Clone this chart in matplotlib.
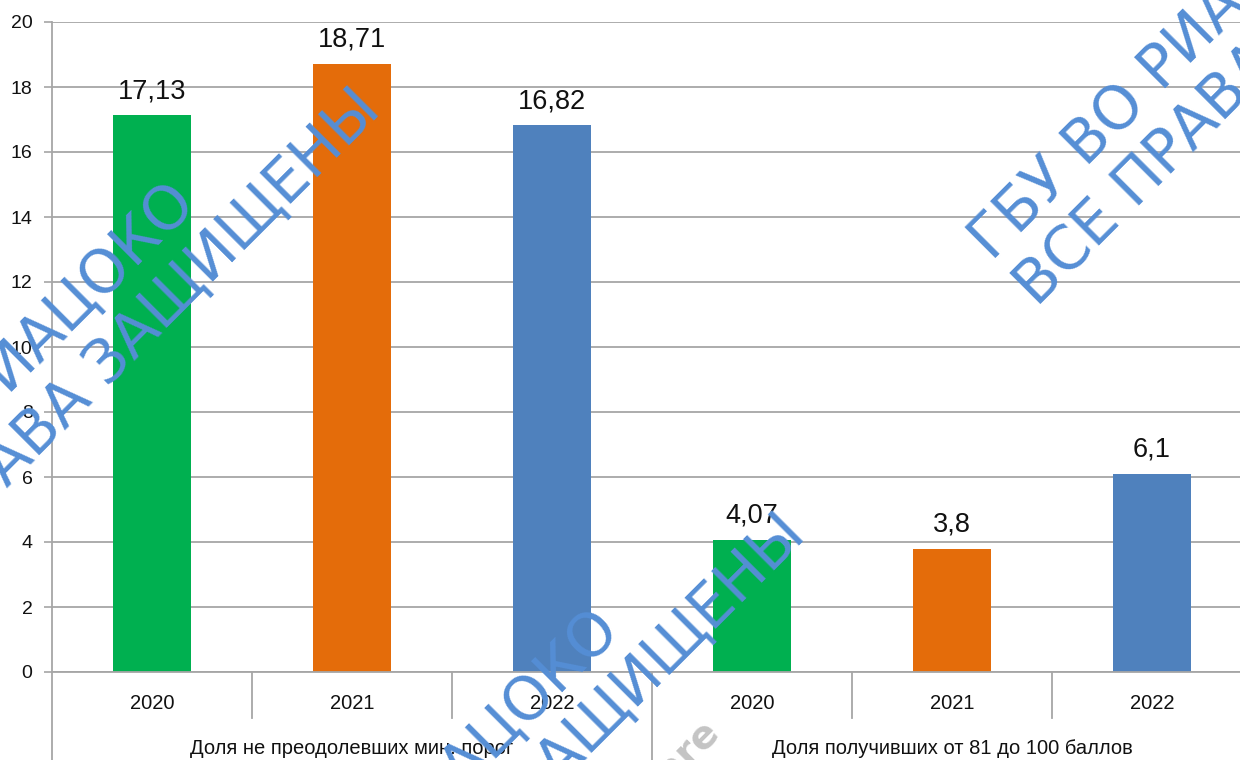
import matplotlib
matplotlib.use("Agg")
import matplotlib.pyplot as plt
from matplotlib.lines import Line2D

years = ["2020", "2021", "2022", "2020", "2021", "2022"]
values = [17.13, 18.71, 16.82, 4.07, 3.8, 6.1]
groups = ["Доля не преодолевших мин. порог", "Доля получивших от 81 до 100 баллов"]
colors = ["#00b050", "#e46c0a", "#4f81bd", "#00b050", "#e46c0a", "#4f81bd"]
wm_line1 = "ГБУ ВО РИАЦОКО"
wm_line2 = "ВСЕ ПРАВА ЗАЩИЩЕНЫ"

plt.rcParams["font.family"] = ["Liberation Sans", "DejaVu Sans"]

W, H = 1240, 760
fig = plt.figure(figsize=(W / 100, H / 100), dpi=100)
ax = fig.add_axes([52 / W, (H - 672) / H, 1200 / W, 650 / H])

x = list(range(len(values)))
ax.bar(x, values, width=0.39, color=colors, zorder=2)
for xi, v in zip(x, values):
    ax.annotate(f"{v:g}".replace(".", ","), (xi, v), xytext=(0, 8),
                textcoords="offset points", ha="center", va="bottom",
                fontsize=19.5, color="#111111")

ax.set_xlim(-0.5, 5.5)
ax.set_ylim(0, 20)
ax.set_yticks(range(0, 21, 2))
ax.yaxis.grid(True, color="#a6a6a6", linewidth=1.3, zorder=0)
ax.tick_params(axis="y", length=6, width=1.2, color="#a6a6a6", labelsize=14,
               pad=8, labelcolor="#111111")
ax.set_xticks([])
for s in ["top", "right"]:
    ax.spines[s].set_visible(False)
ax.spines["bottom"].set_color("#a6a6a6")
ax.spines["bottom"].set_linewidth(1.3)
ax.spines["left"].set_visible(False)

# left axis line continues through category area
fig.add_artist(Line2D([52 / W, 52 / W], [0, (H - 22) / H], color="#a6a6a6", lw=1.3))

# two-level category axis
trans = ax.get_xaxis_transform()
for xi, yr in zip(x, years):
    ax.text(xi, -0.048, yr, transform=trans, ha="center", va="center",
            fontsize=14.5, color="#111111")
for d in [0.5, 1.5, 3.5, 4.5]:
    ax.plot([d, d], [0, -0.071], transform=trans, color="#a6a6a6", lw=1.3, clip_on=False)
ax.plot([2.5, 2.5], [0, -0.14], transform=trans, color="#a6a6a6", lw=1.3, clip_on=False)
ax.text(1, -0.117, groups[0], transform=trans, ha="center", va="center",
        fontsize=14.5, color="#111111")
ax.text(4, -0.117, groups[1], transform=trans, ha="center", va="center",
        fontsize=14.5, color="#111111")

# watermarks
wm_kw = dict(rotation=45, rotation_mode="anchor", va="baseline", fontsize=43,
             color="#558ed5", family="DejaVu Sans", zorder=10)


def px(xp, yp):
    return xp / W, 1 - yp / H


for (ex1, ey1), (ex2, ey2) in [((198, 206), (383, 112)), ((622, 633), (808, 537))]:
    fig.text(*px(ex1, ey1), wm_line1, ha="right", **wm_kw)
    fig.text(*px(ex2, ey2), wm_line2, ha="right", **wm_kw)
fig.text(*px(992, 262), wm_line1, ha="left", **wm_kw)
fig.text(*px(1037, 308), wm_line2, ha="left", **wm_kw)

fig.text(*px(721, 733), "Software", ha="right", va="baseline", rotation=45,
         rotation_mode="anchor", fontsize=28, fontweight="bold", color="#c4c4c4",
         family="DejaVu Sans", zorder=1)

fig.savefig("out.png", dpi=100)
